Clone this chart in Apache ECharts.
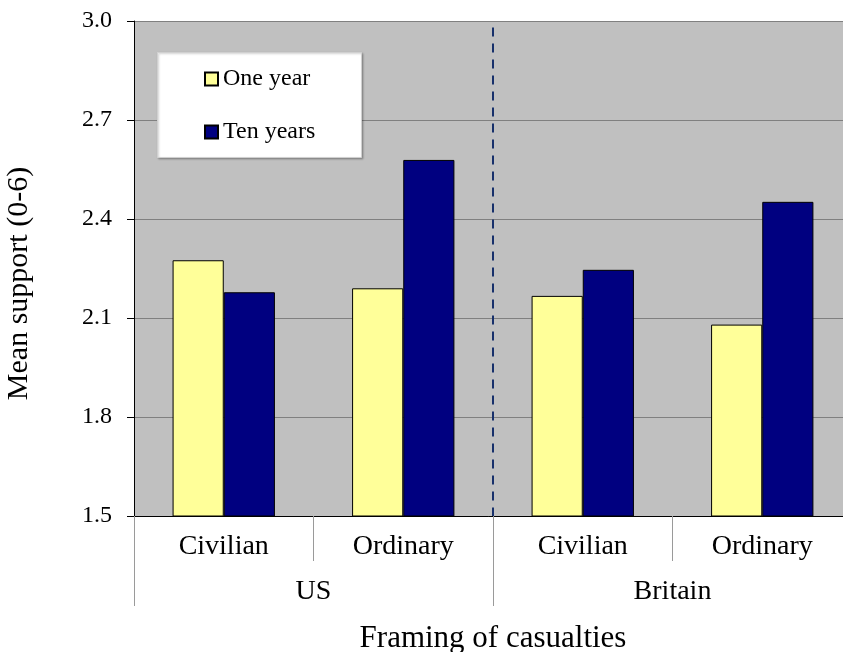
<!DOCTYPE html>
<html>
<head>
<meta charset="utf-8">
<script src="https://cdn.jsdelivr.net/npm/echarts@6/dist/echarts.min.js"></script>
<style>html,body{margin:0;padding:0;background:#fff;}#c{width:843px;height:652px;}</style>
</head>
<body>
<div id="c"></div>
<script>
const categories = ['Civilian', 'Ordinary', 'Civilian', 'Ordinary'];
const groups = ['US', 'Britain'];
const oneYear = [2.275, 2.19, 2.167, 2.08];
const tenYears = [2.178, 2.579, 2.246, 2.452];
const yTicks = { min: 1.5, max: 3.0, interval: 0.3 };
const dividerAt = 2;

const FONT = 'Liberation Serif';
const chart = echarts.init(document.getElementById('c'));
chart.setOption({
  animation: false,
  backgroundColor: '#ffffff',
  textStyle: { fontFamily: FONT, color: '#000' },
  grid: { left: 134, top: 21, width: 718, height: 495, backgroundColor: '#C0C0C0', show: true, borderWidth: 0, containLabel: false, outerBoundsMode: 'none' },
  graphic: [{
    type: 'rect', left: 157, top: 52, z: 10,
    shape: { width: 204, height: 105 },
    style: { fill: '#ffffff', stroke: '#d0d0d0', lineWidth: 1, shadowColor: 'rgba(0,0,0,0.25)', shadowBlur: 2, shadowOffsetX: 1, shadowOffsetY: 1 }
  }],
  legend: {
    left: 204, top: 67, orient: 'vertical', z: 20,
    itemWidth: 13, itemHeight: 13, itemGap: 29, padding: 0, icon: 'rect',
    textStyle: { fontFamily: FONT, fontSize: 24, color: '#000', lineHeight: 14, padding: [0, 0, 0, 0] },
    data: ['One year', 'Ten years']
  },
  xAxis: [{
    type: 'category', data: categories, position: 'bottom',
    axisLine: { lineStyle: { color: '#000', width: 1 } },
    axisTick: { show: true, length: 45, lineStyle: { color: '#9a9a9a', width: 1 } },
    axisLabel: { fontFamily: FONT, fontSize: 28, color: '#000', margin: 17 },
    splitLine: { show: false }
  }, {
    type: 'category', data: groups, position: 'bottom',
    axisLine: { show: false },
    axisTick: { show: true, length: 90, lineStyle: { color: '#9a9a9a', width: 1 } },
    axisLabel: { fontFamily: FONT, fontSize: 28, color: '#000', margin: 62 },
    name: 'Framing of casualties', nameLocation: 'middle', nameGap: 107,
    nameTextStyle: { fontFamily: FONT, fontSize: 31, color: '#000' }
  }, {
    type: 'value', min: 0, max: 4, show: false
  }],
  yAxis: {
    type: 'value', min: yTicks.min, max: yTicks.max, interval: yTicks.interval,
    axisLine: { show: true, lineStyle: { color: '#000', width: 1 } },
    axisTick: { show: true, length: 7, inside: false, lineStyle: { color: '#000' } },
    axisLabel: { fontFamily: FONT, fontSize: 24, color: '#000', margin: 22, formatter: v => v.toFixed(1) },
    splitLine: { show: true, lineStyle: { color: '#808080', width: 1 } },
    name: 'Mean support (0-6)', nameLocation: 'middle', nameGap: 100,
    nameTextStyle: { fontFamily: FONT, fontSize: 30, color: '#000', padding: [0, 30, 0, 0] }
  },
  series: [{
    name: 'One year', type: 'bar', xAxisIndex: 0, data: oneYear,
    barGap: '0%', barCategoryGap: '43%',
    itemStyle: { color: '#FFFF99', borderColor: '#000', borderWidth: 1 }
  }, {
    name: 'Ten years', type: 'bar', xAxisIndex: 0, data: tenYears,
    barGap: '0%', barCategoryGap: '43%',
    itemStyle: { color: '#000080', borderColor: '#000', borderWidth: 1 }
  }, {
    name: 'divider', type: 'line', xAxisIndex: 2, yAxisIndex: 0,
    data: [[dividerAt, yTicks.min]], symbol: 'none', silent: true,
    lineStyle: { opacity: 0 },
    markLine: {
      silent: true, symbol: 'none', label: { show: false },
      lineStyle: { color: '#17306b', type: [9, 7], width: 2 },
      data: [[{ coord: [dividerAt, 2.98] }, { coord: [dividerAt, yTicks.min] }]]
    }
  }]
});
</script>
</body>
</html>
